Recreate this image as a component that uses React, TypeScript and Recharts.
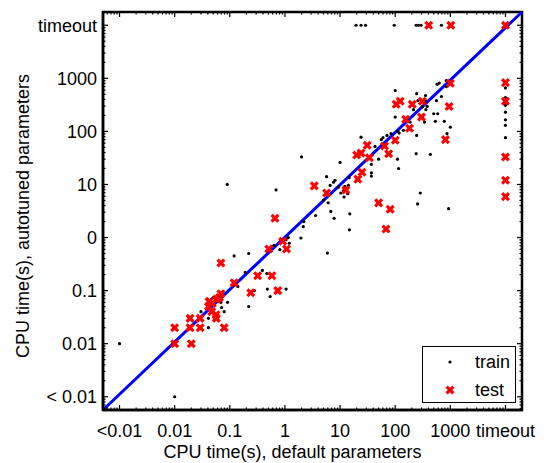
import {
  Legend,
  ReferenceArea,
  ReferenceLine,
  Scatter,
  ScatterChart,
  XAxis,
  YAxis,
} from "recharts";

// "<0.01" and "timeout" are drawn one decade past the last real tick
const LT = 0.001;
const TO = 10000;

const xTickLabels = ["<0.01", "0.01", "0.1", "1", "10", "100", "1000", "timeout"];
const yTickLabels = ["< 0.01", "0.01", "0.1", "0", "10", "100", "1000", "timeout"];
const majorTicks = [-3, -2, -1, 0, 1, 2, 3, 4];

// [default params, autotuned params] CPU seconds
const train: [number, number][] = [
  [19.5, TO], [24, TO], [29, TO], [96, TO], [240, TO], [265, TO], [295, TO], [690, TO],
  [TO, 660], [TO, 435], [TO, 340], [TO, 310], [TO, 230], [TO, 165], [TO, 130], [TO, 76],
  [LT, 0.01], [0.01, LT],
  [0.09, 10], [0.69, 7.9], [2.0, 33], [100, 590], [245, 515], [355, 475], [575, 775],
  [630, 815], [845, 910], [850, 700], [690, 455], [560, 380], [258, 380], [380, 295],
  [360, 257], [100, 186], [500, 215], [590, 215], [535, 155], [340, 150], [780, 155],
  [1000, 120], [245, 84], [112, 100], [84, 91], [71, 84], [60, 76], [56, 70], [24, 78],
  [110, 30], [115, 20], [240, 38], [435, 37], [50, 30], [10, 26], [37, 16.6], [37, 14.4],
  [37, 24], [14.6, 13.4], [5.7, 14], [7.6, 11], [8.1, 12], [6.6, 9.6], [9.3, 8.9],
  [10.3, 6.9], [11.8, 5.8], [6.1, 4.5], [285, 6.9], [255, 4.3], [930, 3.5], [6.8, 3.1],
  [7.8, 2.3], [15, 2.8], [14.8, 1.4], [5.9, 0.51], [11.5, 7.7], [12.3, 9.2], [14.2, 9.6],
  [13.8, 6.7], [5.0, 5.1], [3.6, 2.6], [2.2, 2.0], [2.15, 1.6], [1.95, 0.98], [1.2, 0.78],
  [0.81, 0.59], [215, 257], [187, 150], [870, 91], [141, 105], [118, 93], [43, 52],
  [355, 380], [310, 290], [0.12, 0.45], [0.22, 0.5], [0.19, 0.22], [0.39, 0.24],
  [0.47, 0.21], [0.14, 0.12], [0.28, 0.1], [0.48, 0.107], [0.54, 0.077], [1.05, 0.107],
  [0.22, 0.05], [0.039, 0.069], [0.039, 0.047], [0.03, 0.04], [0.069, 0.06], [0.091, 0.06],
  [0.071, 0.048], [0.079, 0.04], [0.041, 0.03], [0.041, 0.02], [0.63, 0.71], [1.15, 1.0],
  [1.05, 0.91], [0.05, 0.074],
];

const test: [number, number][] = [
  [405, TO], [1020, TO], [TO, TO],
  [TO, 830], [TO, 370], [TO, 33], [TO, 12], [TO, 5.9],
  [3.4, 9.4], [104, 325], [123, 370], [204, 325], [310, 370], [1000, 810], [950, 295],
  [155, 170], [182, 115], [300, 186], [815, 70], [100, 68], [64, 53], [31, 55], [24, 39],
  [20, 36], [76, 38], [34, 32], [25, 17], [21, 12.6], [5.7, 6.9], [12.7, 7.9], [50, 4.5],
  [81, 3.4], [68, 1.45], [0.91, 0.85], [1.07, 0.61], [0.51, 0.61], [0.66, 2.3],
  [0.069, 0.33], [0.32, 0.19], [0.58, 0.19], [0.74, 0.1], [0.24, 0.091], [0.12, 0.14],
  [0.069, 0.087], [0.058, 0.069], [0.042, 0.062], [0.048, 0.057], [0.041, 0.05],
  [0.047, 0.04], [0.056, 0.035], [0.057, 0.03], [0.019, 0.03], [0.029, 0.03],
  [0.019, 0.02], [0.029, 0.02], [0.079, 0.02], [0.01, 0.02], [0.01, 0.01], [0.02, 0.01],
  [0.065, 0.074],
];

const X_DOMAIN: [number, number] = [-3.3, 4.3];
const Y_DOMAIN: [number, number] = [-3.25, 4.25];

const WIDTH = 544;
const HEIGHT = 463;
const MARGIN = { top: 12, right: 22, bottom: 3, left: 3 };
const PLOT_TOP = MARGIN.top;
const PLOT_RIGHT = WIDTH - MARGIN.right;

const FONT = '"Liberation Sans", Arial, Helvetica, sans-serif';

const toXY = ([d, t]: [number, number]) => ({ x: Math.log10(d), y: Math.log10(t) });
const trainData = train.map(toXY);
const testData = test.map(toXY);

// log minor ticks inside a domain, plus the decade ticks
function allTicks(domain: [number, number]) {
  const out = [...majorTicks];
  for (let d = -4; d <= 4; d++) {
    for (let k = 2; k <= 9; k++) {
      const v = d + Math.log10(k);
      if (v > domain[0] && v < domain[1]) out.push(v);
    }
  }
  return out.sort((a, b) => a - b);
}

const isMajor = (v: number) => majorTicks.includes(v);

// bottom tick also draws its twin on the top edge (MATLAB box style)
function BottomTick({ x, y, payload }: any) {
  const v = payload.value;
  const len = isMajor(v) ? 5 : 2.5;
  return (
    <g>
      <line x1={x} y1={y} x2={x} y2={y - len} stroke="#000" strokeWidth={1.2} />
      <line x1={x} y1={PLOT_TOP} x2={x} y2={PLOT_TOP + len} stroke="#000" strokeWidth={1.2} />
      {isMajor(v) && (
        <text x={x} y={y + 27} textAnchor="middle" fontSize={18} fontFamily={FONT} fill="#000">
          {xTickLabels[v + 3]}
        </text>
      )}
    </g>
  );
}

function LeftTick({ x, y, payload }: any) {
  const v = payload.value;
  const len = isMajor(v) ? 5 : 2.5;
  return (
    <g>
      <line x1={x} y1={y} x2={x + len} y2={y} stroke="#000" strokeWidth={1.2} />
      <line x1={PLOT_RIGHT} y1={y} x2={PLOT_RIGHT - len} y2={y} stroke="#000" strokeWidth={1.2} />
      {isMajor(v) && (
        <text x={x - 6} y={y + 6.5} textAnchor="end" fontSize={18} fontFamily={FONT} fill="#000">
          {yTickLabels[v + 3]}
        </text>
      )}
    </g>
  );
}

function XTitle({ viewBox }: any) {
  const { x, y, width } = viewBox;
  return (
    <text x={x + width / 2 - 20} y={y + 48} textAnchor="middle" fontSize={18} fontFamily={FONT} fill="#000">
      CPU time(s), default parameters
    </text>
  );
}

function YTitle({ viewBox }: any) {
  const { x, y, height } = viewBox;
  const cx = x + 26;
  const cy = y + height / 2 + 5;
  return (
    <text
      x={cx}
      y={cy}
      transform={`rotate(-90, ${cx}, ${cy})`}
      textAnchor="middle"
      fontSize={18}
      fontFamily={FONT}
      fill="#000"
    >
      CPU time(s), autotuned parameters
    </text>
  );
}

const TrainDot = ({ cx, cy }: any) => <circle cx={cx} cy={cy} r={1.6} fill="#000" />;

const TestCross = ({ cx, cy }: any) => {
  const s = 3.4;
  return (
    <g stroke="#ff0000" strokeWidth={3.2}>
      <line x1={cx - s} y1={cy - s} x2={cx + s} y2={cy + s} />
      <line x1={cx - s} y1={cy + s} x2={cx + s} y2={cy - s} />
    </g>
  );
};

function LegendBox() {
  return (
    <svg width={94} height={57} style={{ display: "block" }}>
      <rect x={0.5} y={0.5} width={93} height={56} fill="#fff" stroke="#000" strokeWidth={1} />
      <TrainDot cx={28} cy={16} />
      <text x={53} y={22} fontSize={18} fontFamily={FONT} fill="#000">train</text>
      <TestCross cx={28} cy={44} />
      <text x={53} y={50} fontSize={18} fontFamily={FONT} fill="#000">test</text>
    </svg>
  );
}

export default function App() {
  const xTicks = allTicks(X_DOMAIN);
  const yTicks = allTicks(Y_DOMAIN);
  return (
    <div style={{ position: "absolute", left: 0, top: 0, background: "#fff" }}>
      <ScatterChart width={WIDTH} height={HEIGHT} margin={MARGIN}>
        <XAxis
          type="number"
          dataKey="x"
          domain={X_DOMAIN}
          allowDataOverflow
          ticks={xTicks}
          interval={0}
          tickSize={0}
          tickMargin={0}
          tickLine={false}
          tick={<BottomTick />}
          height={50}
          axisLine={{ stroke: "#000", strokeWidth: 2.5 }}
          label={<XTitle />}
        />
        <YAxis
          type="number"
          dataKey="y"
          domain={Y_DOMAIN}
          allowDataOverflow
          ticks={yTicks}
          interval={0}
          tickSize={0}
          tickMargin={0}
          tickLine={false}
          tick={<LeftTick />}
          width={100}
          axisLine={{ stroke: "#000", strokeWidth: 2.5 }}
          label={<YTitle />}
        />
        <ReferenceArea
          x1={X_DOMAIN[0]}
          x2={X_DOMAIN[1]}
          y1={Y_DOMAIN[0]}
          y2={Y_DOMAIN[1]}
          fill="none"
          fillOpacity={0}
          stroke="#000"
          strokeWidth={2.5}
          ifOverflow="visible"
        />
        <Scatter name="train" data={trainData} shape={<TrainDot />} isAnimationActive={false} />
        <Scatter name="test" data={testData} shape={<TestCross />} isAnimationActive={false} />
        <ReferenceLine
          segment={[
            { x: X_DOMAIN[0], y: Y_DOMAIN[0] },
            { x: X_DOMAIN[1], y: Y_DOMAIN[1] },
          ]}
          stroke="#0000ff"
          strokeWidth={3}
          ifOverflow="visible"
        />
        <Legend
          layout="horizontal"
          verticalAlign="middle"
          align="center"
          wrapperStyle={{ left: 422, top: 346, width: 94, height: 57 }}
          content={() => <LegendBox />}
        />
      </ScatterChart>
    </div>
  );
}
